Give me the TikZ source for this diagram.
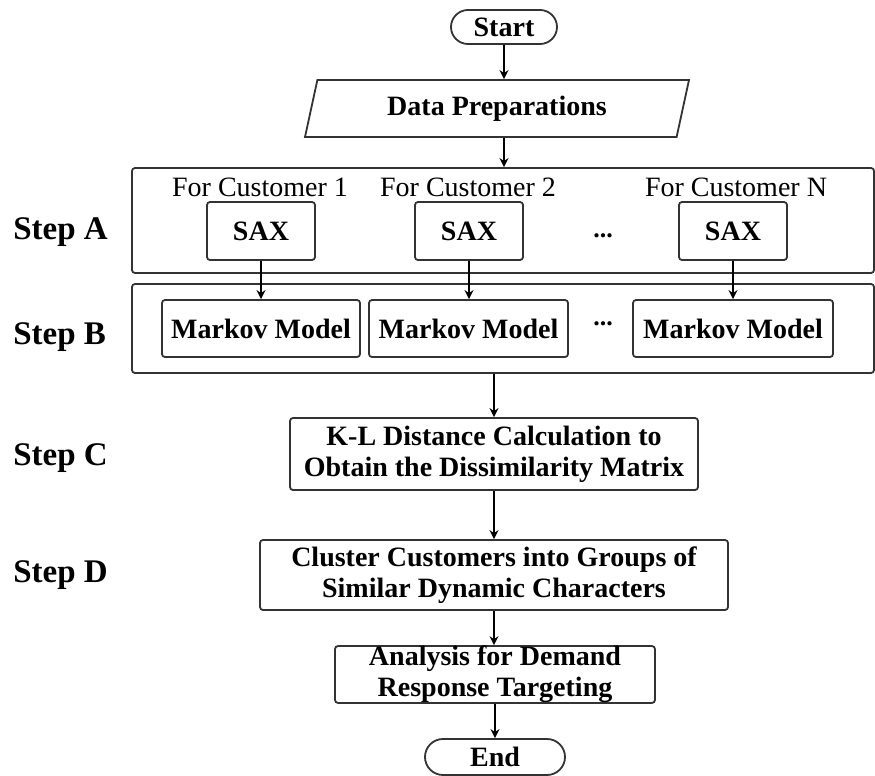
\documentclass[tikz,border=0pt]{standalone}
\usepackage{fontspec}
\setmainfont{Liberation Serif}
\usetikzlibrary{arrows.meta,shapes.misc,shapes.geometric}

\begin{document}
\begin{tikzpicture}[x=0.5pt,y=-0.5pt,
    box/.style={draw=black!80,line width=0.9pt,rounded corners=1.5pt,align=center,inner sep=0pt,
                font=\bfseries\fontsize{14}{15.5}\selectfont},
    term/.style={draw=black!80,line width=0.9pt,rounded rectangle,inner sep=0pt,
                 font=\bfseries\fontsize{14}{15.5}\selectfont},
    flow/.style={line width=0.9pt,-{Stealth[length=4.5pt,width=4.5pt]}},
    steplabel/.style={anchor=west,inner sep=0pt,font=\bfseries\fontsize{16.5}{18}\selectfont},
    cust/.style={font=\fontsize{14}{15.5}\selectfont},
    dots/.style={font=\bfseries\fontsize{13}{14}\selectfont}]
    \useasboundingbox (0,0) rectangle (875,776);
    % start and data
    \node[term,minimum width=53pt,minimum height=17pt] (start) at (504,27) {Start};
    \node[box,trapezium,rounded corners=0pt,trapezium left angle=64,trapezium right angle=116,
          trapezium stretches body,minimum width=192pt,minimum height=28.5pt] (data) at (497,108.5) {Data Preparations};
    % the two step frames
    \node[box,minimum width=371pt,minimum height=52.5pt] (boxA) at (503,220.5) {};
    \node[box,minimum width=371pt,minimum height=44.5pt] (boxB) at (503,328.5) {};
    % step A
    \node[cust] (cust1) at (260,187) {For Customer 1};
    \node[cust] (cust2) at (468,187) {For Customer 2};
    \node[cust] (custN) at (736,187) {For Customer N};
    \node[box,minimum width=54pt,minimum height=29pt] (sax1) at (261,231) {SAX};
    \node[box,minimum width=54pt,minimum height=29pt] (sax2) at (469,231) {SAX};
    \node[box,minimum width=54pt,minimum height=29pt] (saxN) at (733,231) {SAX};
    \node[dots] (dotsA) at (603,236) {...};
    % step B
    \node[box,minimum width=99pt,minimum height=28.5pt] (mm1) at (261,328.5) {Markov Model};
    \node[box,minimum width=99.5pt,minimum height=28.5pt] (mm2) at (468.5,328.5) {Markov Model};
    \node[box,minimum width=100pt,minimum height=28.5pt] (mmN) at (733,328.5) {Markov Model};
    \node[dots] (dotsB) at (603,324) {...};
    % steps C, D and the end
    \node[box,minimum width=204pt,minimum height=36pt] (kl) at (494,454)
        {K-L Distance Calculation to\\Obtain the Dissimilarity Matrix};
    \node[box,minimum width=234pt,minimum height=35pt] (cluster) at (494,575)
        {Cluster Customers into Groups of\\Similar Dynamic Characters};
    \node[box,minimum width=160pt,minimum height=27.5pt] (analysis) at (495,674.5)
        {Analysis for Demand\\Response Targeting};
    \node[term,minimum width=70pt,minimum height=18pt] (end) at (495,757) {End};
    % step labels
    \node[steplabel] (stepA) at (13,232) {Step A};
    \node[steplabel] (stepB) at (13,337) {Step B};
    \node[steplabel] (stepC) at (13,458) {Step C};
    \node[steplabel] (stepD) at (13,575) {Step D};
    % arrows
    \draw[flow] (start) -- (start |- data.north);
    \draw[flow] (data.south -| start) -- (start |- boxA.north);
    \draw[flow] (sax1) -- (mm1);
    \draw[flow] (sax2) -- (sax2 |- mm2.north);
    \draw[flow] (saxN) -- (mmN);
    \draw[flow] (boxB.south -| kl) -- (kl);
    \draw[flow] (kl) -- (cluster);
    \draw[flow] (cluster) -- (cluster |- analysis.north);
    \draw[flow] (analysis) -- (end);
\end{tikzpicture}
\end{document}
